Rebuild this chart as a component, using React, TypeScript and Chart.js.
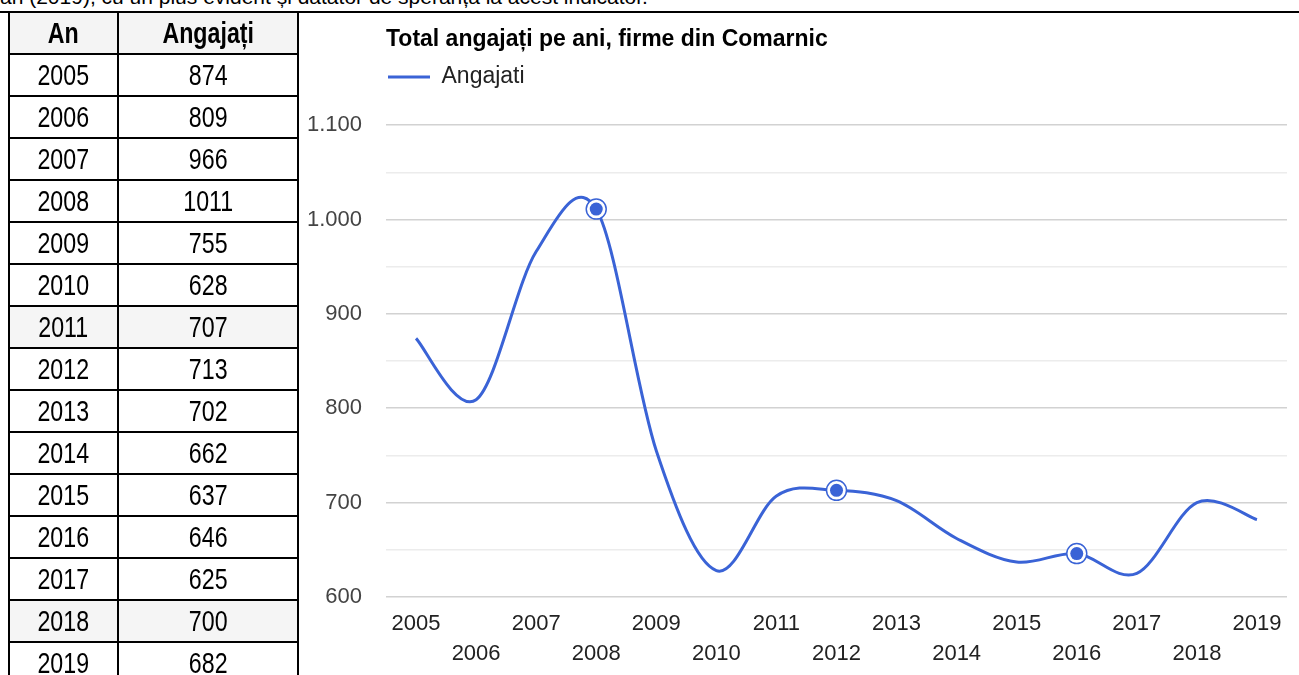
import React, { useEffect, useRef } from 'react';
import { Chart, registerables } from 'chart.js';

Chart.register(...registerables);

// ---- data ----
const years = ['2005', '2006', '2007', '2008', '2009', '2010', '2011', '2012', '2013', '2014', '2015', '2016', '2017', '2018', '2019'];
const employees = [874, 809, 966, 1011, 755, 628, 707, 713, 702, 662, 637, 646, 625, 700, 682];
const highlightedYears = ['2008', '2012', '2016'];
const shadedYears = ['2011', '2018'];
const yMin = 600;
const yMax = 1100;
const yStep = 50;
const chartTitle = 'Total angajați pe ani, firme din Comarnic';
const seriesLabel = 'Angajati';
const tableHeaders = ['An', 'Angajați'];
const introText = 'an (2019), cu un plus evident și datator de speranță la acest indicator.';

const BLUE = '#3a63d6';
const FONT = 'Arial, "Liberation Sans", sans-serif';
const SMOOTHING = 1 / 6; // uniform Catmull-Rom style smoothing of the "function" curve

const fmt = (v: number) =>
  v >= 1000 ? `${Math.floor(v / 1000)}.${String(v % 1000).padStart(3, '0')}` : String(v);

// Replaces Chart.js's distance-weighted control points with uniform Catmull-Rom ones,
// computed from the point positions that the library's scales produced.
const smoothCurvePlugin = {
  id: 'smoothCurve',
  beforeDatasetDraw(chart: any, args: any) {
    const meta = args.meta;
    if (args.index !== 0 || !meta.dataset) return;
    const line = meta.dataset;
    line.updateControlPoints(chart.chartArea, meta.iScale.axis);
    const pts = meta.data;
    for (let i = 0; i < pts.length; i++) {
      const p = pts[i];
      const prev = pts[i - 1] || p;
      const next = pts[i + 1] || p;
      const dx = (next.x - prev.x) * SMOOTHING;
      const dy = (next.y - prev.y) * SMOOTHING;
      p.cp1x = p.x - dx;
      p.cp1y = p.y - dy;
      p.cp2x = p.x + dx;
      p.cp2y = p.y + dy;
    }
    line._path = undefined;
  },
};

function LineChart() {
  const ref = useRef<HTMLCanvasElement | null>(null);
  useEffect(() => {
    if (!ref.current) return;
    const markerValues = employees.map((v, i) => (highlightedYears.includes(years[i]) ? v : null));
    const chart = new Chart(ref.current, {
      type: 'line',
      plugins: [smoothCurvePlugin],
      data: {
        labels: years,
        datasets: [
          {
            label: seriesLabel,
            data: employees,
            borderColor: BLUE,
            backgroundColor: BLUE,
            borderWidth: 3,
            tension: 0.4,
            pointRadius: 0,
            pointHoverRadius: 0,
            fill: false,
            order: 2,
          },
          {
            label: 'ring',
            data: markerValues,
            showLine: false,
            pointRadius: 10,
            pointHoverRadius: 10,
            pointBackgroundColor: '#ffffff',
            pointBorderColor: BLUE,
            pointBorderWidth: 1.5,
            order: 1,
          },
          {
            label: 'dot',
            data: markerValues,
            showLine: false,
            pointRadius: 6.5,
            pointHoverRadius: 6.5,
            pointBackgroundColor: BLUE,
            pointBorderWidth: 0,
            order: 0,
          },
        ],
      },
      options: {
        animation: false,
        responsive: false,
        maintainAspectRatio: false,
        events: [],
        layout: { padding: { left: 0, right: 12, bottom: 0, top: 0 } },
        plugins: {
          title: {
            display: true,
            text: chartTitle,
            align: 'start',
            fullSize: false,
            color: '#000000',
            font: { family: FONT, size: 23, weight: 'bold', lineHeight: 1.2 },
            padding: { top: 26, bottom: 10 },
          },
          legend: {
            display: true,
            align: 'start',
            fullSize: false,
            weight: 1800,
            labels: {
              usePointStyle: true,
              pointStyle: 'line',
              pointStyleWidth: 42,
              color: '#222222',
              font: { family: FONT, size: 23 },
              padding: 2,
              filter: (item: any) => item.datasetIndex === 0,
            },
          },
          subtitle: {
            display: true,
            text: '',
            fullSize: false,
            font: { size: 1, lineHeight: 1 },
            padding: { top: 25.5, bottom: 0 },
          },
          tooltip: { enabled: false },
        },
        scales: {
          x: {
            offset: true,
            grid: { display: false, drawTicks: false },
            border: { display: false },
            afterFit: (scale: any) => {
              scale.height = 78;
            },
            ticks: {
              autoSkip: false,
              maxRotation: 0,
              minRotation: 0,
              color: '#222222',
              font: { family: FONT, size: 22, lineHeight: 1.36 },
              padding: 12,
              callback: (_v: any, i: number) => (i % 2 === 0 ? years[i] : ['', years[i]]),
            },
          },
          y: {
            min: yMin,
            max: yMax,
            afterFit: (scale: any) => {
              scale.width = 88;
            },
            grid: {
              color: (ctx: any) => (ctx.tick && ctx.tick.value % 100 === 0 ? '#d2d2d2' : '#ececec'),
              lineWidth: 1.5,
              drawTicks: false,
            },
            border: { display: false },
            ticks: {
              stepSize: yStep,
              padding: 24,
              color: '#444444',
              font: { family: FONT, size: 22 },
              callback: (v: any) => (Number(v) % 100 === 0 ? fmt(Number(v)) : ''),
            },
          },
        },
      },
    } as any);
    return () => chart.destroy();
  }, []);
  return <canvas ref={ref} width={1001} height={675} style={{ position: 'absolute', left: 298, top: 0 }} />;
}

function Cell({ text, bold, bg, as }: { text: string; bold?: boolean; bg: string; as: 'th' | 'td' }) {
  const style: React.CSSProperties = {
    border: '2px solid #000',
    textAlign: 'center',
    verticalAlign: 'middle',
    padding: 0,
    height: 40,
    fontFamily: FONT,
    fontSize: 29,
    fontWeight: bold ? 'bold' : 'normal',
    color: '#000',
    background: bg,
    overflow: 'hidden',
  };
  const inner = <span style={{ display: 'inline-block', transform: 'scaleX(0.8)', lineHeight: '38px' }}>{text}</span>;
  return as === 'th' ? <th style={style}>{inner}</th> : <td style={style}>{inner}</td>;
}

export default function App() {
  return (
    <div
      style={{
        position: 'fixed',
        left: 0,
        top: 0,
        width: 1299,
        height: 675,
        overflow: 'hidden',
        background: '#fff',
        fontFamily: FONT,
      }}
    >
      <div style={{ position: 'absolute', left: 0, top: -15, fontSize: 21, lineHeight: '24px', whiteSpace: 'nowrap', color: '#000' }}>
        {introText}
      </div>
      <LineChart />
      <div style={{ position: 'absolute', left: 0, top: 11, width: 1299, height: 2, background: '#000' }} />
      <table
        style={{
          position: 'absolute',
          left: 8,
          top: 11,
          borderCollapse: 'collapse',
          tableLayout: 'fixed',
          width: 289,
        }}
      >
        <colgroup>
          <col style={{ width: 109 }} />
          <col style={{ width: 180 }} />
        </colgroup>
        <thead>
          <tr>
            {tableHeaders.map((h) => (
              <Cell key={h} as="th" text={h} bold bg="#f4f4f4" />
            ))}
          </tr>
        </thead>
        <tbody>
          {years.map((y, i) => {
            const bg = shadedYears.includes(y) ? '#f5f5f5' : '#fff';
            return (
              <tr key={y}>
                <Cell as="td" text={y} bg={bg} />
                <Cell as="td" text={String(employees[i])} bg={bg} />
              </tr>
            );
          })}
        </tbody>
      </table>
    </div>
  );
}
